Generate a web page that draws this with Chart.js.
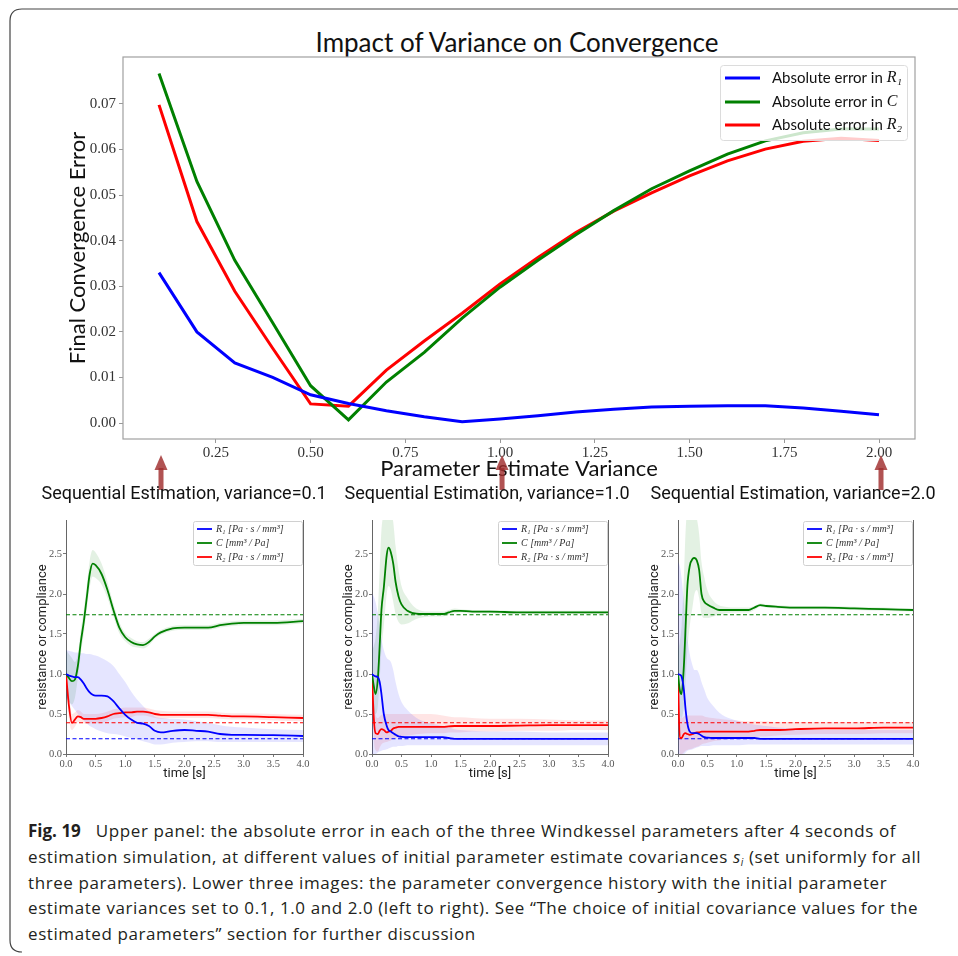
<!DOCTYPE html>
<html><head><meta charset="utf-8">
<script src="https://cdn.jsdelivr.net/npm/chart.js@4.4.1/dist/chart.umd.min.js"></script>
<style>
html,body{margin:0;padding:0;background:#fff;}
body{width:958px;height:956px;position:relative;overflow:hidden;}
.box{position:absolute;}
.ttl{position:absolute;transform:translate(-50%,-50%);white-space:nowrap;line-height:1;color:#111;}
#mainTitle{left:517px;top:42px;font:26px 'Lato',sans-serif;}
.ptitle{top:492px;font:18px 'Roboto',sans-serif;color:#111;}
#cap{position:absolute;left:28px;top:818px;font:17px 'Open Sans',sans-serif;letter-spacing:0.58px;color:#231f20;line-height:25.75px;white-space:nowrap;}
#cap div{height:25.75px;}
#cap b{font-weight:700;letter-spacing:0;}
#cap sub{font-size:10px;vertical-align:-3px;line-height:0;}
</style>
</head><body>
<svg class="box" style="left:0;top:0" width="958" height="956"><path d="M958,9 H22 Q10,9 10,21 V940 Q10,952 22,952" fill="none" stroke="#444" stroke-width="1.2"/></svg>
<div id="mainTitle" class="ttl">Impact of Variance on Convergence</div>
<div class="box" style="left:0;top:0;width:958px;height:500px"><canvas id="mainChart"></canvas></div>
<div class="ttl ptitle" style="left:184px">Sequential Estimation, variance=0.1</div>
<div class="ttl ptitle" style="left:487px">Sequential Estimation, variance=1.0</div>
<div class="ttl ptitle" style="left:793px">Sequential Estimation, variance=2.0</div>
<div class="box" style="left:20px;top:510px;width:300px;height:280px"><canvas id="p1"></canvas></div>
<div class="box" style="left:326px;top:510px;width:300px;height:280px"><canvas id="p2"></canvas></div>
<div class="box" style="left:632px;top:510px;width:300px;height:280px"><canvas id="p3"></canvas></div>
<div id="cap">
<div><b>Fig. 19</b>&nbsp;&nbsp; Upper panel: the absolute error in each of the three Windkessel parameters after 4 seconds of</div>
<div>estimation simulation, at different values of initial parameter estimate covariances <i>s<sub>i</sub></i> (set uniformly for all</div>
<div>three parameters). Lower three images: the parameter convergence history with the initial parameter</div>
<div>estimate variances set to 0.1, 1.0 and 2.0 (left to right). See “The choice of initial covariance values for the</div>
<div>estimated parameters” section for further discussion</div>
</div>
<script>
// ---------- upper panel data ----------
const variance = [0.1,0.2,0.3,0.4,0.5,0.6,0.7,0.8,0.9,1.0,1.1,1.2,1.3,1.4,1.5,1.6,1.7,1.8,1.9,2.0];
const errR1 = [0.033,0.020,0.0132,0.0100,0.0062,0.0043,0.0027,0.0014,0.0003,0.0009,0.0016,0.0024,0.0030,0.0035,0.0037,0.0038,0.0038,0.0033,0.0026,0.0018];
const errC  = [0.0767,0.053,0.0357,0.022,0.0082,0.0007,0.009,0.0155,0.023,0.0298,0.0357,0.0413,0.0466,0.0514,0.0553,0.059,0.0619,0.0637,0.0645,0.0645];
const errR2 = [0.0698,0.0442,0.0289,0.0164,0.0042,0.0037,0.0116,0.018,0.0241,0.0305,0.0363,0.0418,0.0465,0.0505,0.0542,0.0575,0.0601,0.0618,0.0625,0.062];
const mainXTicks = [0.25,0.5,0.75,1.0,1.25,1.5,1.75,2.0];
const mainYTicks = [0,0.01,0.02,0.03,0.04,0.05,0.06,0.07];
const arrowAt = [0.1,1.0,2.0];
const mainLegendText = ['Absolute error in ','Absolute error in ','Absolute error in '];
const mainLegendSym = ['R₁','C','R₂'];

// ---------- lower panels data ----------
const trueR1 = 0.19, trueC = 1.74, trueR2 = 0.39;
const timeTicks = [0,0.5,1.0,1.5,2.0,2.5,3.0,3.5,4.0];
const panelYTicks = [0,0.5,1.0,1.5,2.0,2.5];
const panelLegend = ['R₁ [Pa · s / mm³]','C [mm³ / Pa]','R₂ [Pa · s / mm³]'];

// variance = 0.1
const t1 = [0,0.05,0.1,0.15,0.2,0.25,0.3,0.35,0.4,0.45,0.5,0.6,0.7,0.8,0.9,1.0,1.1,1.2,1.3,1.4,1.5,1.6,1.8,2.0,2.2,2.4,2.6,2.8,3.0,3.5,4.0];
const c1   = [1.0,0.95,0.91,0.93,1.1,1.4,1.65,1.95,2.25,2.38,2.36,2.25,2.05,1.8,1.58,1.46,1.4,1.37,1.36,1.4,1.47,1.52,1.57,1.58,1.58,1.58,1.61,1.63,1.64,1.64,1.66];
const c1Hi = [1.3,1.25,1.2,1.15,1.25,1.55,1.8,2.1,2.42,2.55,2.52,2.38,2.15,1.88,1.65,1.51,1.45,1.41,1.4,1.44,1.5,1.55,1.6,1.61,1.61,1.61,1.64,1.66,1.67,1.67,1.69];
const c1Lo = [0.7,0.66,0.62,0.7,0.95,1.25,1.5,1.8,2.08,2.22,2.2,2.12,1.95,1.72,1.51,1.41,1.35,1.33,1.32,1.36,1.44,1.49,1.54,1.55,1.55,1.55,1.58,1.6,1.61,1.61,1.63];
const r1a   = [1.0,0.98,0.97,0.96,0.96,0.93,0.88,0.82,0.77,0.74,0.73,0.73,0.72,0.66,0.57,0.49,0.43,0.39,0.38,0.35,0.29,0.27,0.29,0.3,0.29,0.28,0.25,0.24,0.24,0.235,0.225];
const r1aHi = [1.3,1.29,1.28,1.27,1.27,1.26,1.26,1.25,1.25,1.24,1.23,1.2,1.16,1.1,1.0,0.9,0.78,0.68,0.6,0.53,0.47,0.45,0.44,0.43,0.41,0.39,0.36,0.34,0.33,0.31,0.3];
const r1aLo = [0.7,0.65,0.6,0.55,0.5,0.46,0.42,0.38,0.35,0.33,0.31,0.28,0.26,0.25,0.24,0.22,0.2,0.18,0.16,0.14,0.12,0.12,0.14,0.15,0.16,0.16,0.15,0.15,0.15,0.15,0.15];
const r2a   = [1.0,0.6,0.39,0.43,0.47,0.46,0.44,0.44,0.44,0.44,0.44,0.45,0.47,0.5,0.51,0.52,0.52,0.53,0.53,0.52,0.5,0.49,0.49,0.49,0.49,0.49,0.48,0.47,0.47,0.46,0.45];
const r2aHi = [1.0,0.75,0.5,0.52,0.55,0.53,0.5,0.5,0.5,0.5,0.5,0.51,0.53,0.56,0.57,0.58,0.58,0.58,0.58,0.57,0.55,0.54,0.53,0.53,0.53,0.53,0.52,0.51,0.51,0.5,0.49];
const r2aLo = [1.0,0.45,0.3,0.34,0.4,0.4,0.38,0.38,0.38,0.38,0.38,0.39,0.41,0.44,0.45,0.46,0.46,0.48,0.48,0.47,0.45,0.44,0.45,0.45,0.45,0.45,0.44,0.43,0.43,0.42,0.41];

// variance = 1.0
const t2 = [0,0.03,0.06,0.1,0.13,0.16,0.2,0.25,0.28,0.32,0.36,0.4,0.45,0.5,0.6,0.7,0.8,1.0,1.2,1.3,1.4,1.5,1.7,2.0,2.5,3.0,3.5,4.0];
const c2   = [1.0,0.85,0.75,0.95,1.35,1.8,2.08,2.49,2.58,2.52,2.38,2.15,1.97,1.87,1.79,1.76,1.75,1.75,1.75,1.77,1.79,1.79,1.78,1.78,1.77,1.77,1.77,1.77];
const c2Hi = [1.3,1.35,1.45,1.8,2.3,2.8,3.0,3.1,3.1,3.05,2.9,2.6,2.3,2.1,1.95,1.85,1.8,1.78,1.78,1.8,1.82,1.81,1.8,1.8,1.79,1.79,1.79,1.79];
const c2Lo = [0.7,0.55,0.5,0.6,0.9,1.3,1.6,2.0,2.1,2.05,1.9,1.75,1.65,1.62,1.63,1.67,1.7,1.72,1.72,1.74,1.76,1.77,1.76,1.76,1.75,1.75,1.75,1.75];
const r1b   = [1.0,0.98,0.97,0.96,0.9,0.75,0.5,0.35,0.3,0.28,0.26,0.24,0.22,0.215,0.21,0.21,0.21,0.21,0.21,0.2,0.19,0.19,0.19,0.19,0.19,0.19,0.19,0.19];
const r1bHi = [2.0,1.97,1.9,1.75,1.6,1.45,1.3,1.2,1.18,1.15,1.05,0.9,0.75,0.65,0.55,0.48,0.43,0.38,0.35,0.33,0.31,0.3,0.29,0.28,0.28,0.27,0.27,0.27];
const r1bLo = [0.0,0.0,0.0,0.02,0.03,0.04,0.05,0.06,0.07,0.08,0.09,0.09,0.1,0.1,0.11,0.11,0.11,0.11,0.11,0.11,0.11,0.11,0.11,0.11,0.11,0.11,0.11,0.11];
const r2b   = [1.0,0.45,0.26,0.25,0.29,0.31,0.3,0.27,0.28,0.29,0.32,0.33,0.34,0.34,0.34,0.34,0.34,0.34,0.34,0.345,0.35,0.35,0.35,0.35,0.355,0.36,0.36,0.36];
const r2bHi = [1.0,0.7,0.5,0.45,0.47,0.49,0.5,0.5,0.5,0.5,0.5,0.5,0.5,0.5,0.5,0.5,0.5,0.5,0.48,0.47,0.46,0.46,0.45,0.44,0.44,0.43,0.42,0.42];
const r2bLo = [1.0,0.2,0.05,0.03,0.08,0.12,0.14,0.15,0.16,0.17,0.19,0.2,0.21,0.22,0.23,0.24,0.25,0.26,0.26,0.27,0.27,0.27,0.28,0.28,0.29,0.29,0.3,0.3];

// variance = 2.0
const t3 = [0,0.03,0.06,0.1,0.13,0.16,0.2,0.25,0.28,0.32,0.36,0.4,0.45,0.5,0.6,0.7,0.8,1.0,1.2,1.3,1.4,1.5,1.7,2.0,2.5,3.0,3.5,4.0];
const c3   = [1.0,0.8,0.75,1.1,1.6,2.1,2.35,2.44,2.45,2.42,2.3,2.0,1.9,1.87,1.83,1.8,1.8,1.8,1.8,1.83,1.86,1.85,1.84,1.83,1.83,1.82,1.81,1.8];
const c3Hi = [1.3,1.4,1.6,2.2,2.8,3.1,3.2,3.2,3.1,2.95,2.75,2.4,2.2,2.05,1.92,1.86,1.84,1.83,1.83,1.85,1.88,1.87,1.86,1.85,1.85,1.84,1.83,1.82];
const c3Lo = [0.7,0.5,0.45,0.6,0.9,1.3,1.6,1.85,2.0,2.05,1.95,1.75,1.7,1.7,1.72,1.74,1.76,1.77,1.77,1.8,1.84,1.83,1.82,1.81,1.81,1.8,1.79,1.78];
const r1c   = [1.0,0.99,0.97,0.8,0.55,0.38,0.28,0.26,0.26,0.26,0.25,0.23,0.21,0.205,0.2,0.2,0.2,0.2,0.2,0.2,0.19,0.19,0.19,0.19,0.19,0.19,0.19,0.19];
const r1cHi = [2.4,2.35,2.2,1.9,1.65,1.45,1.25,1.1,1.05,1.05,1.0,0.9,0.8,0.7,0.6,0.52,0.47,0.42,0.38,0.37,0.36,0.35,0.33,0.32,0.3,0.3,0.3,0.3];
const r1cLo = [0.0,0.0,0.0,0.0,0.02,0.04,0.05,0.06,0.07,0.08,0.09,0.1,0.1,0.1,0.11,0.11,0.11,0.11,0.12,0.12,0.12,0.12,0.12,0.12,0.12,0.12,0.12,0.12];
const r2c   = [1.0,0.2,0.2,0.25,0.26,0.25,0.24,0.25,0.26,0.27,0.27,0.28,0.28,0.28,0.28,0.28,0.28,0.28,0.28,0.29,0.3,0.3,0.3,0.31,0.32,0.32,0.33,0.33];
const r2cHi = [1.0,0.5,0.45,0.47,0.48,0.48,0.48,0.48,0.48,0.48,0.48,0.48,0.47,0.46,0.45,0.44,0.43,0.42,0.41,0.41,0.41,0.41,0.4,0.4,0.4,0.4,0.4,0.4];
const r2cLo = [1.0,0.0,0.0,0.02,0.04,0.05,0.06,0.07,0.08,0.09,0.1,0.12,0.13,0.14,0.16,0.17,0.18,0.19,0.2,0.21,0.22,0.22,0.23,0.24,0.25,0.25,0.26,0.26];

// ---------- styling ----------
const BLUE='#0000ff', GREEN='#008000', RED='#ff0000';
const SERIF="'Liberation Serif','DejaVu Serif',serif";
const pts = (xs, ys) => xs.map((x,i)=>({x:x, y:ys[i]}));

const mainDecor = {
  id:'mainDecor',
  beforeDatasetsDraw(chart){
    const {ctx, chartArea:a} = chart;
    ctx.save(); ctx.strokeStyle='#a0a0a0'; ctx.lineWidth=1.2;
    ctx.strokeRect(a.left, a.top, a.right-a.left, a.bottom-a.top);
    ctx.restore();
  },
  afterDatasetsDraw(chart){
    const {ctx} = chart;
    const colors=[BLUE,GREEN,RED];
    const bx=720, by=65, bw=187, bh=75;
    ctx.save();
    ctx.fillStyle='rgba(255,255,255,0.8)'; ctx.strokeStyle='#dcdcdc'; ctx.lineWidth=1;
    ctx.beginPath(); ctx.roundRect(bx+0.5,by+0.5,bw,bh,3); ctx.fill(); ctx.stroke();
    const rows=[78,102,125];
    for(let i=0;i<3;i++){
      ctx.strokeStyle=colors[i]; ctx.lineWidth=3;
      ctx.beginPath(); ctx.moveTo(725,rows[i]); ctx.lineTo(760,rows[i]); ctx.stroke();
      ctx.fillStyle='#111'; ctx.textBaseline='middle';
      ctx.font="15px 'Lato',sans-serif";
      ctx.fillText(mainLegendText[i],772,rows[i]);
      const w=ctx.measureText(mainLegendText[i]).width;
      ctx.font="italic 16px "+SERIF;
      ctx.fillText(mainLegendSym[i],772+w,rows[i]);
    }
    ctx.restore();
  },
  afterDraw(chart){
    const {ctx, scales:{x}} = chart;
    ctx.save();
    ctx.fillStyle='rgba(160,45,45,0.82)';
    arrowAt.forEach(v=>{
      const px=x.getPixelForValue(v)+2;
      ctx.fillRect(px-2.5,468,5,22);
      ctx.beginPath(); ctx.moveTo(px,455); ctx.lineTo(px-6.5,470); ctx.lineTo(px+6.5,470); ctx.closePath(); ctx.fill();
    });
    ctx.restore();
  }
};

new Chart(document.getElementById('mainChart'),{
  type:'line',
  data:{datasets:[
    {data:pts(variance,errR1),borderColor:BLUE,borderWidth:3,pointRadius:0,tension:0,fill:false},
    {data:pts(variance,errC),borderColor:GREEN,borderWidth:3,pointRadius:0,tension:0,fill:false},
    {data:pts(variance,errR2),borderColor:RED,borderWidth:3,pointRadius:0,tension:0,fill:false}
  ]},
  options:{
    responsive:true,maintainAspectRatio:false,animation:false,devicePixelRatio:1,
    layout:{padding:{left:0,top:57,right:43,bottom:0}},
    plugins:{legend:{display:false},tooltip:{enabled:false}},
    scales:{
      x:{type:'linear',min:0.005,max:2.095,
        afterBuildTicks:s=>{s.ticks=mainXTicks.map(v=>({value:v}));},
        afterFit:s=>{s.height=61;},
        ticks:{callback:v=>Number(v).toFixed(2),font:{family:SERIF,size:15},color:'#333',padding:1,maxRotation:0,autoSkip:false},
        grid:{drawOnChartArea:false,drawTicks:true,tickLength:4,color:'#999'},border:{display:false},
        title:{display:true,text:'Parameter Estimate Variance',font:{family:'Lato',size:22},color:'#111',padding:{top:0,bottom:18}}},
      y:{type:'linear',min:-0.0035,max:0.0803,
        afterBuildTicks:s=>{s.ticks=mainYTicks.map(v=>({value:v}));},
        afterFit:s=>{s.width=123;},
        ticks:{callback:v=>Number(v).toFixed(2),font:{family:SERIF,size:15},color:'#333',padding:3,autoSkip:false},
        grid:{drawOnChartArea:false,drawTicks:true,tickLength:4,color:'#999'},border:{display:false},
        title:{display:true,text:'Final Convergence Error',font:{family:'Lato',size:22},color:'#111',padding:{top:65,bottom:0}}}
    }
  },
  plugins:[mainDecor]
});

const panelDecor = {
  id:'panelDecor',
  beforeDatasetsDraw(chart){
    const {ctx, chartArea:a} = chart;
    ctx.save(); ctx.strokeStyle='#666'; ctx.lineWidth=1;
    ctx.beginPath();
    ctx.moveTo(a.left+0.5,a.top); ctx.lineTo(a.left+0.5,a.bottom+0.5); ctx.lineTo(a.right+0.5,a.bottom+0.5); ctx.lineTo(a.right+0.5,a.top);
    ctx.stroke(); ctx.restore();
  },
  afterDatasetsDraw(chart){
    const {ctx, chartArea:a} = chart;
    const colors=[BLUE,GREEN,RED];
    const bw=110, bh=44, bx=a.right-bw, by=a.top+1;
    ctx.save();
    ctx.fillStyle='rgba(255,255,255,0.85)'; ctx.strokeStyle='#d0d0d0'; ctx.lineWidth=1;
    ctx.beginPath(); ctx.roundRect(bx+0.5,by+0.5,bw-1,bh,2); ctx.fill(); ctx.stroke();
    for(let i=0;i<3;i++){
      const y=by+8+i*14;
      ctx.strokeStyle=colors[i]; ctx.lineWidth=1.8;
      ctx.beginPath(); ctx.moveTo(bx+4,y); ctx.lineTo(bx+19,y); ctx.stroke();
      ctx.fillStyle='#333'; ctx.textBaseline='middle';
      ctx.font="italic 10px "+SERIF;
      ctx.fillText(panelLegend[i],bx+23,y);
    }
    ctx.restore();
  }
};

function panel(id, t, series, padRight){
  const ds=[];
  const lineCols=[BLUE,GREEN,RED];
  const bandCols=['rgba(0,0,255,0.10)','rgba(0,128,0,0.11)','rgba(255,0,0,0.10)'];
  const trues=[trueR1,trueC,trueR2];
  series.forEach((s,i)=>{
    ds.push({data:pts(t,s.v),borderColor:lineCols[i],borderWidth:1.8,pointRadius:0,cubicInterpolationMode:'monotone',fill:false,order:0});
  });
  series.forEach((s,i)=>{
    ds.push({data:pts([0,4],[trues[i],trues[i]]),borderColor:lineCols[i],borderWidth:1.1,borderDash:[4,2.5],pointRadius:0,fill:false,order:1});
  });
  series.forEach((s,i)=>{
    ds.push({data:pts(t,s.lo),borderWidth:0,borderColor:'rgba(0,0,0,0)',pointRadius:0,cubicInterpolationMode:'monotone',fill:false,order:2});
    ds.push({data:pts(t,s.hi),borderWidth:0,borderColor:'rgba(0,0,0,0)',pointRadius:0,cubicInterpolationMode:'monotone',fill:'-1',backgroundColor:bandCols[i],order:2});
  });
  new Chart(document.getElementById(id),{
    type:'line',
    data:{datasets:ds},
    options:{
      responsive:true,maintainAspectRatio:false,animation:false,devicePixelRatio:1,
      layout:{padding:{left:0,top:10,right:padRight,bottom:0}},
      plugins:{legend:{display:false},tooltip:{enabled:false},filler:{propagate:false}},
      scales:{
        x:{type:'linear',min:0,max:4,
          afterBuildTicks:s=>{s.ticks=timeTicks.map(v=>({value:v}));},
          afterFit:s=>{s.height=36;},
          ticks:{callback:v=>Number(v).toFixed(1),font:{family:SERIF,size:10.5},color:'#555',padding:1,maxRotation:0,autoSkip:false},
          grid:{drawOnChartArea:false,drawTicks:true,tickLength:3,color:'#777'},border:{display:false},
          title:{display:true,text:'time [s]',font:{family:'Roboto',size:13},color:'#222',padding:{top:0,bottom:8}}},
        y:{type:'linear',min:0,max:2.925,
          afterBuildTicks:s=>{s.ticks=panelYTicks.map(v=>({value:v}));},
          afterFit:s=>{s.width=46;},
          ticks:{callback:v=>Number(v).toFixed(1),font:{family:SERIF,size:10.5},color:'#555',padding:1,autoSkip:false},
          grid:{drawOnChartArea:false,drawTicks:true,tickLength:3,color:'#777'},border:{display:false},
          title:{display:true,text:'resistance or compliance',font:{family:'Roboto',size:13},color:'#222',padding:{top:15,bottom:0}}}
      }
    },
    plugins:[panelDecor]
  });
}

panel('p1',t1,[{v:r1a,lo:r1aLo,hi:r1aHi},{v:c1,lo:c1Lo,hi:c1Hi},{v:r2a,lo:r2aLo,hi:r2aHi}],17);
panel('p2',t2,[{v:r1b,lo:r1bLo,hi:r1bHi},{v:c2,lo:c2Lo,hi:c2Hi},{v:r2b,lo:r2bLo,hi:r2bHi}],18);
panel('p3',t3,[{v:r1c,lo:r1cLo,hi:r1cHi},{v:c3,lo:c3Lo,hi:c3Hi},{v:r2c,lo:r2cLo,hi:r2cHi}],19);
</script>
</body></html>
